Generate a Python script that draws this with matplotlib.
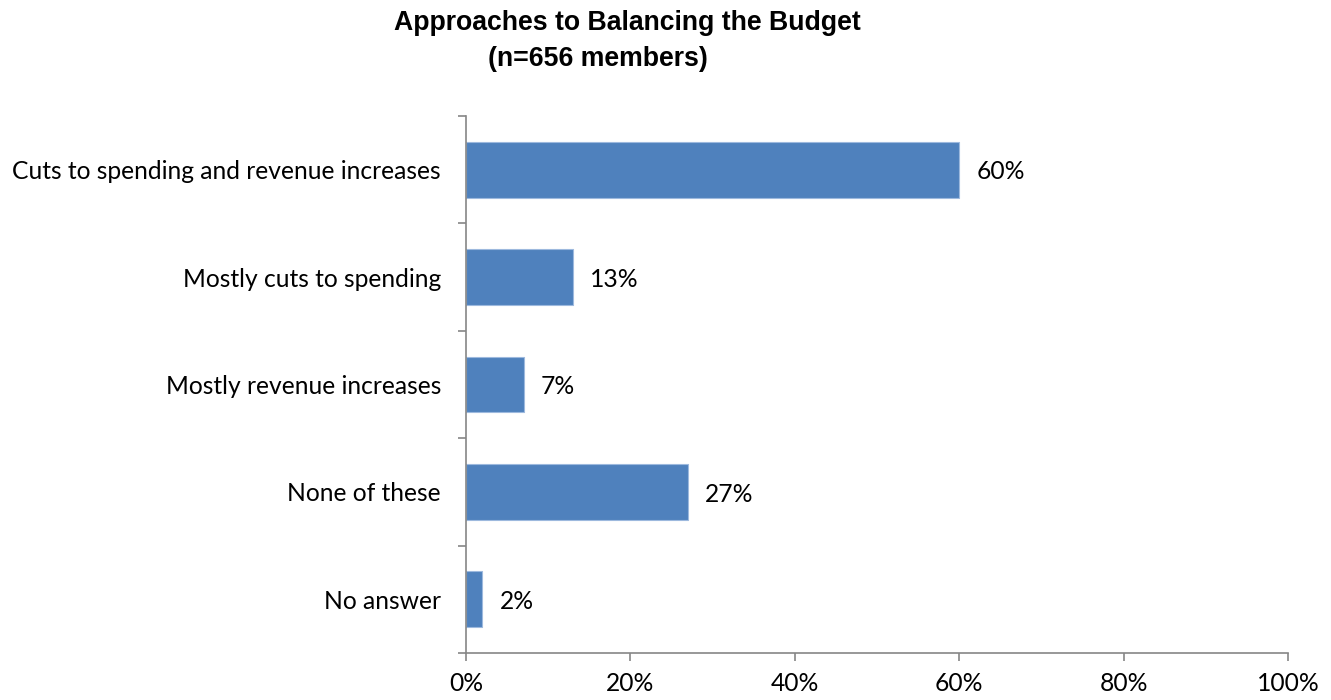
import numpy as np
import matplotlib.pyplot as plt
from matplotlib.ticker import FixedLocator, PercentFormatter

categories = ["Cuts to spending and revenue increases", "Mostly cuts to spending",
              "Mostly revenue increases", "None of these", "No answer"]
values = [60, 13, 7, 27, 2]
x_ticks = [0, 20, 40, 60, 80, 100]

def main():
    plt.rcParams['font.family'] = ['Lato', 'DejaVu Sans']
    fig = plt.figure(figsize=(13.31, 7.0), dpi=100)
    ax = fig.add_axes([0.3501, 0.0671, 0.9677 - 0.3501, 0.8343 - 0.0671])

    y = np.arange(len(categories))
    ax.barh(y, values, height=0.52, color='#4F81BD', edgecolor='#9DB9DE', linewidth=0.8)
    #value labels a little right of each bar end
    for yi, v in zip(y, values):
        ax.text(v + 2.1, yi + 0.02, f"{v}%", va='center', ha='left', fontsize=17.7, color='black')

    ax.set_xlim(0, 100)
    ax.set_ylim(len(categories) - 0.5, -0.5)
    ax.set_yticks(y)
    ax.set_yticklabels(categories, fontsize=17.7)
    ax.yaxis.set_minor_locator(FixedLocator(np.arange(-0.5, len(categories), 1.0)))
    ax.tick_params(axis='y', which='major', length=0, pad=18)
    ax.tick_params(axis='y', which='minor', length=6, color='#868686', width=1.2)
    ax.set_xticks(x_ticks)
    ax.xaxis.set_major_formatter(PercentFormatter(decimals=0))
    ax.tick_params(axis='x', length=6, color='#868686', width=1.2, labelsize=17.7, pad=8)

    for s in ['top', 'right']:
        ax.spines[s].set_visible(False)
    for s in ['left', 'bottom']:
        ax.spines[s].set_color('#868686')
        ax.spines[s].set_linewidth(1.2)

    fig.text(627 / 1331, 0.967, "Approaches to Balancing the Budget", ha='center', va='center',
             fontsize=19.2, fontweight='bold', family='Liberation Sans')
    fig.text(598 / 1331, 0.916, "(n=656 members)", ha='center', va='center',
             fontsize=19.2, fontweight='bold', family='Liberation Sans')

    fig.savefig("out.png", dpi=100)

if __name__ == "__main__": main()
